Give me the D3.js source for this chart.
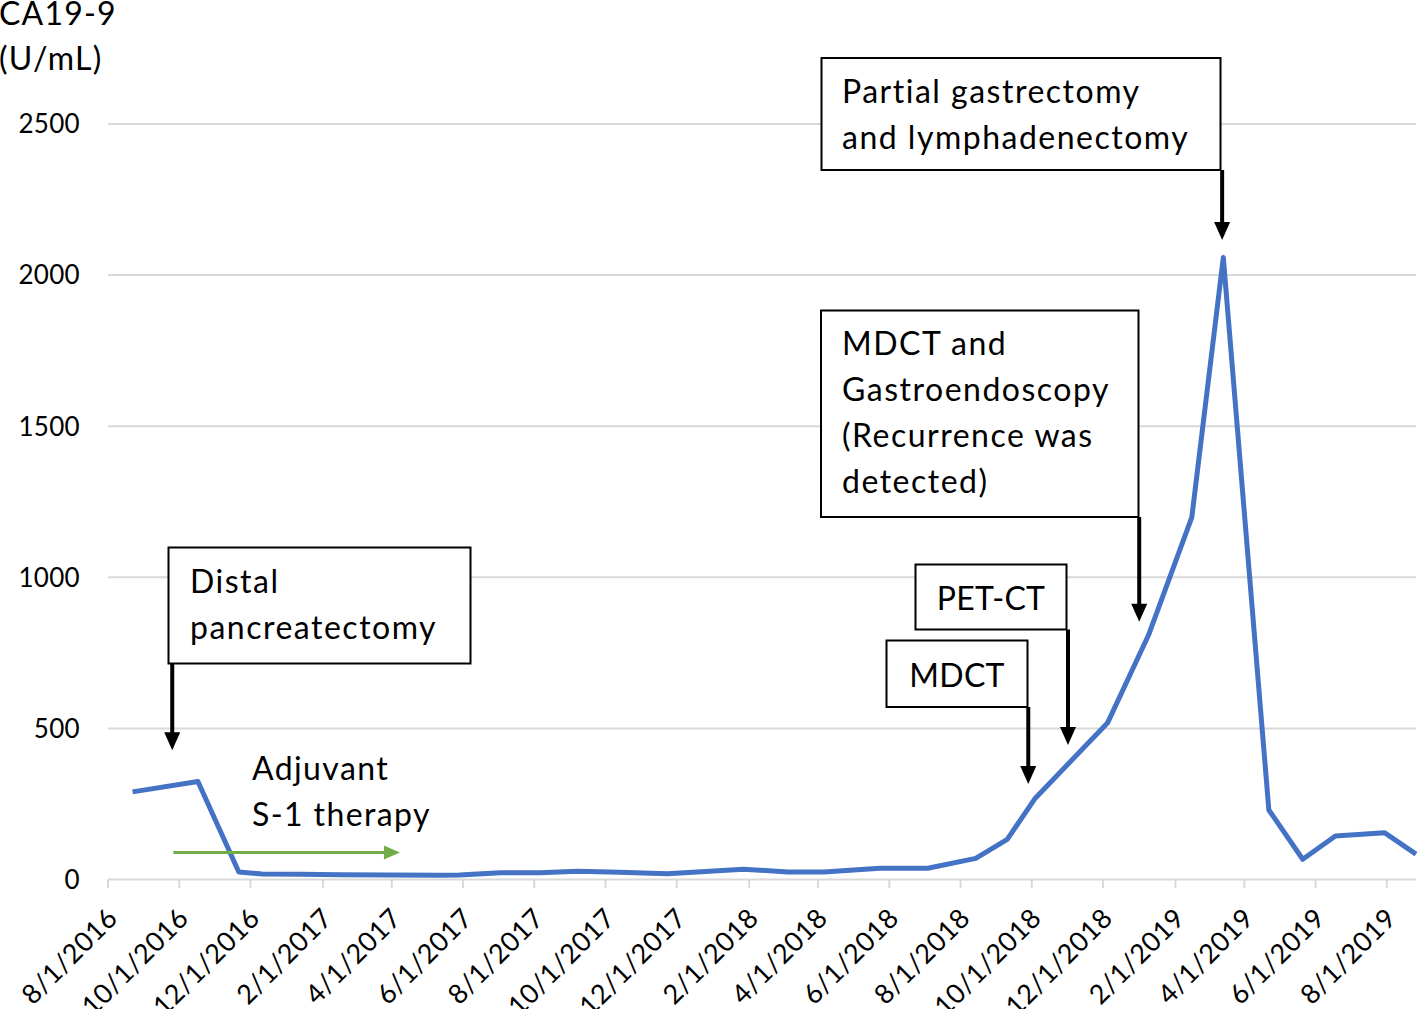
<!DOCTYPE html>
<html>
<head>
<meta charset="utf-8">
<script src="https://cdn.jsdelivr.net/npm/d3@7/dist/d3.min.js"></script>
<style>
  html, body { margin: 0; padding: 0; background: #fff; }
  svg { display: block; }
  text { font-family: Lato, "Open Sans", sans-serif; fill: #000; }
</style>
</head>
<body>
<svg id="chart" width="1418" height="1009"></svg>
<script>
// ---- data ----
const dates = [
  "2016-08-22","2016-10-17","2016-11-21","2016-12-11","2017-01-13","2017-02-16",
  "2017-03-31","2017-05-12","2017-05-29","2017-07-03","2017-08-06","2017-09-07",
  "2017-10-13","2017-11-23","2018-01-27","2018-03-06","2018-04-06","2018-05-24",
  "2018-07-04","2018-08-14","2018-09-10","2018-10-04","2018-12-05","2019-01-09",
  "2019-02-15","2019-03-14","2019-04-22","2019-05-21","2019-06-18","2019-07-30",
  "2019-08-26"
];
const values = [
  290, 324, 25, 18, 17, 16,
  15, 14, 15, 22, 22, 27,
  24, 19, 34, 25, 25, 37,
  37, 70, 133, 269, 519, 809,
  1198, 2058, 230, 67, 144, 155,
  84
];
const yTicks = [0, 500, 1000, 1500, 2000, 2500];
const xTickLabels = [
  "8/1/2016","10/1/2016","12/1/2016","2/1/2017","4/1/2017","6/1/2017",
  "8/1/2017","10/1/2017","12/1/2017","2/1/2018","4/1/2018","6/1/2018",
  "8/1/2018","10/1/2018","12/1/2018","2/1/2019","4/1/2019","6/1/2019","8/1/2019"
];
const axisStart = "2016-08-01";
const yAxisTitle = ["CA19-9", "(U/mL)"];

// annotation events: date and CA19-9 level at which each arrow points
const eventLabels = [
  ["Distal", "pancreatectomy"],
  ["MDCT"],
  ["PET-CT"],
  ["MDCT and", "Gastroendoscopy", "(Recurrence was", "detected)"],
  ["Partial gastrectomy", "and lymphadenectomy"]
];
const eventDates = ["2016-09-25", "2018-09-28", "2018-11-01", "2019-01-01", "2019-03-13"];
const eventLevels = [428, 316, 445, 853, 2116];

const therapyLabel = ["Adjuvant", "S-1 therapy"];
const therapyStart = "2016-09-26";
const therapyEnd = "2017-04-08";
const therapyLevel = 89;

// ---- scales ----
const parse = d3.utcParse("%Y-%m-%d");
const pts = dates.map((d, i) => ({ date: parse(d), value: values[i] }));

const svg = d3.select("#chart");
const x = d3.scaleUtc()
  .domain([parse(axisStart), parse(dates[dates.length - 1])])
  .range([108, 1416]);
const y = d3.scaleLinear().domain([0, 2500]).range([879.5, 124]);

const tickDates = xTickLabels.map(s => {
  const [m, d, yr] = s.split("/").map(Number);
  return new Date(Date.UTC(yr, m - 1, d));
});

// gridlines
svg.append("g").selectAll("line").data(yTicks).join("line")
  .attr("x1", 108).attr("x2", 1416)
  .attr("y1", d => y(d)).attr("y2", d => y(d))
  .attr("stroke", "#d9d9d9").attr("stroke-width", 2);

// y tick labels
svg.append("g").selectAll("text").data(yTicks).join("text")
  .attr("x", 80).attr("y", d => y(d))
  .attr("dy", "0.36em")
  .attr("text-anchor", "end")
  .style("font-size", "26px")
  .style("letter-spacing", "0.3px")
  .text(d => d);

// x axis ticks
svg.append("g").selectAll("line").data(tickDates).join("line")
  .attr("x1", d => x(d)).attr("x2", d => x(d))
  .attr("y1", 879.5).attr("y2", 888)
  .attr("stroke", "#d9d9d9").attr("stroke-width", 2);

svg.append("g").selectAll("text").data(tickDates).join("text")
  .attr("transform", d => `translate(${x(d) + 11},${920}) rotate(-45)`)
  .attr("text-anchor", "end")
  .style("font-size", "27px")
  .style("letter-spacing", "0.4px")
  .text((d, i) => xTickLabels[i]);

// y title
svg.append("g").selectAll("text").data(yAxisTitle).join("text")
  .attr("x", -1).attr("y", (d, i) => 25 + i * 45)
  .style("font-size", "32px")
  .style("letter-spacing", "1.2px")
  .text(d => d);

// data line
svg.append("path")
  .datum(pts)
  .attr("fill", "none")
  .attr("stroke", "#4472C4")
  .attr("stroke-width", 5)
  .attr("stroke-linejoin", "round")
  .attr("d", d3.line().x(d => x(d.date)).y(d => y(d.value)));

// green therapy arrow
const gx1 = x(parse(therapyStart)), gx2 = x(parse(therapyEnd)), gy = y(therapyLevel);
svg.append("line")
  .attr("x1", gx1).attr("x2", gx2 - 14).attr("y1", gy).attr("y2", gy)
  .attr("stroke", "#70AD47").attr("stroke-width", 3);
svg.append("path")
  .attr("d", `M${gx2},${gy} L${gx2 - 16},${gy - 7} L${gx2 - 16},${gy + 7} Z`)
  .attr("fill", "#70AD47");
svg.append("g").selectAll("text").data(therapyLabel).join("text")
  .attr("x", 252).attr("y", (d, i) => 780 + i * 46)
  .style("font-size", "32px")
  .style("letter-spacing", "1.4px")
  .text(d => d);

// annotation boxes (left, top, right, bottom) and arrows
const boxes = [
  { l: 168.5, t: 547.5, r: 470.5, b: 663.5, tx: 190, ty: 593, center: false },
  { l: 886.5, t: 640.5, r: 1027.5, b: 707, tx: 957, ty: 687, center: true },
  { l: 915.5, t: 564.5, r: 1066.5, b: 629.5, tx: 991, ty: 610, center: true },
  { l: 821, t: 310.5, r: 1138.5, b: 517, tx: 842, ty: 355, center: false },
  { l: 821.5, t: 58, r: 1220.5, b: 170, tx: 842, ty: 103, center: false }
];

boxes.forEach((b, i) => {
  svg.append("rect")
    .attr("x", b.l).attr("y", b.t)
    .attr("width", b.r - b.l).attr("height", b.b - b.t)
    .attr("fill", "#fff").attr("stroke", "#000").attr("stroke-width", 2);
  svg.append("g").selectAll("text").data(eventLabels[i]).join("text")
    .attr("x", b.tx).attr("y", (d, j) => b.ty + j * 46)
    .attr("text-anchor", b.center ? "middle" : "start")
    .style("font-size", "32px")
    .style("letter-spacing", b.center ? "0.3px" : "1.5px")
    .text(d => d);
  const ax = x(parse(eventDates[i]));
  const tipY = y(eventLevels[i]);
  svg.append("line")
    .attr("x1", ax).attr("x2", ax)
    .attr("y1", b.b).attr("y2", tipY - 16)
    .attr("stroke", "#000").attr("stroke-width", 4);
  svg.append("path")
    .attr("d", `M${ax},${tipY} L${ax - 8},${tipY - 18} L${ax + 8},${tipY - 18} Z`)
    .attr("fill", "#000");
});
</script>
</body>
</html>
